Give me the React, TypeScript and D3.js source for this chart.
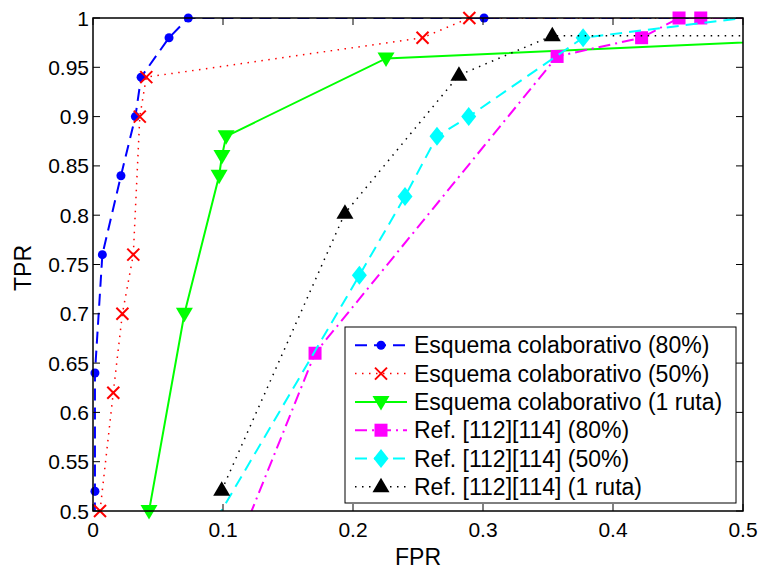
import React from "react";
import * as d3 from "d3";

// ---------- data ----------
const blueX = [0.001, 0.0015, 0.0015, 0.0072, 0.0215, 0.0326, 0.037, 0.0585, 0.0733, 0.3008, 0.6];
const blueY = [0.4, 0.52, 0.64, 0.76, 0.84, 0.9, 0.94, 0.98, 1.0, 1.0, 1.0];

const redX = [0.0054, 0.0156, 0.0226, 0.031, 0.036, 0.041, 0.2535, 0.2895, 0.6];
const redY = [0.5, 0.62, 0.7, 0.76, 0.9, 0.94, 0.98, 1.0, 1.0];

const greenX = [0.0431, 0.0703, 0.097, 0.0992, 0.1024, 0.2254, 0.6];
const greenY = [0.5, 0.7, 0.84, 0.86, 0.88, 0.959, 0.981];

const magentaX = [0.1, 0.1708, 0.357, 0.422, 0.4508, 0.4675, 0.6];
const magentaY = [0.428, 0.66, 0.961, 0.98, 1.0, 1.0, 1.0];

const cyanX = [0.08, 0.2049, 0.24, 0.2646, 0.289, 0.377, 0.5];
const cyanY = [0.458, 0.739, 0.819, 0.88, 0.9, 0.98, 1.0];

const blackX = [0.099, 0.1938, 0.2815, 0.3533, 0.6];
const blackY = [0.521, 0.802, 0.942, 0.982, 0.982];

const xTicks = [0, 0.1, 0.2, 0.3, 0.4, 0.5];
const yTicks = [0.5, 0.55, 0.6, 0.65, 0.7, 0.75, 0.8, 0.85, 0.9, 0.95, 1];

const seriesNames = [
  "Esquema colaborativo (80%)",
  "Esquema colaborativo (50%)",
  "Esquema colaborativo (1 ruta)",
  "Ref. [112][114] (80%)",
  "Ref. [112][114] (50%)",
  "Ref. [112][114] (1 ruta)",
];

type Marker = "dot" | "x" | "tridown" | "square" | "diamond" | "triup";
const seriesStyle: { color: string; dash: string; width: number; marker: Marker }[] = [
  { color: "#0000ff", dash: "12,7", width: 2, marker: "dot" },
  { color: "#ff0000", dash: "1.5,5.5", width: 1.5, marker: "x" },
  { color: "#00ff00", dash: "", width: 2, marker: "tridown" },
  { color: "#ff00ff", dash: "12,5,2,5", width: 2, marker: "square" },
  { color: "#00ffff", dash: "12,7", width: 2, marker: "diamond" },
  { color: "#000000", dash: "1.5,5.5", width: 1.5, marker: "triup" },
];

const seriesX = [blueX, redX, greenX, magentaX, cyanX, blackX];
const seriesY = [blueY, redY, greenY, magentaY, cyanY, blackY];

// ---------- layout ----------
const W = 760;
const H = 569;
const L = 93, R = 743, T = 18, B = 511;
const FONT = "'Liberation Sans', Arial, Helvetica, sans-serif";

function MarkerShape({ type, x, y, color }: { type: Marker; x: number; y: number; color: string }) {
  switch (type) {
    case "dot":
      return <circle cx={x} cy={y} r={4.5} fill={color} />;
    case "x":
      return (
        <g stroke={color} strokeWidth={2}>
          <line x1={x - 6} y1={y - 6} x2={x + 6} y2={y + 6} />
          <line x1={x - 6} y1={y + 6} x2={x + 6} y2={y - 6} />
        </g>
      );
    case "tridown":
      return <path d={`M${x - 8.5},${y - 6}L${x + 8.5},${y - 6}L${x},${y + 8.5}Z`} fill={color} />;
    case "triup":
      return <path d={`M${x - 8.5},${y + 5.5}L${x + 8.5},${y + 5.5}L${x},${y - 9}Z`} fill={color} />;
    case "square":
      return <rect x={x - 6.5} y={y - 6.5} width={13} height={13} fill={color} />;
    case "diamond":
      return <path d={`M${x},${y - 9.5}L${x + 7.5},${y}L${x},${y + 9.5}L${x - 7.5},${y}Z`} fill={color} />;
  }
  return null;
}

export default function App() {
  const x = d3.scaleLinear().domain([0, 0.5]).range([L, R]);
  const y = d3.scaleLinear().domain([0.5, 1]).range([B, T]);
  const line = d3
    .line<[number, number]>()
    .x((d) => x(d[0]))
    .y((d) => y(d[1]));

  const legX = 345, legY = 327, legW = 391, legH = 176;
  const rowY0 = 345.3, rowStep = 28.3;

  return (
    <svg
      width={W}
      height={H}
      style={{ position: "absolute", left: 0, top: 0, background: "#fff" }}
      fontFamily={FONT}
    >
      <rect x={0} y={0} width={W} height={H} fill="#fff" />
      <defs>
        <clipPath id="plotClip">
          <rect x={L} y={T} width={R - L} height={B - T} />
        </clipPath>
      </defs>

      {/* series */}
      {seriesStyle.map((s, i) => {
        const pts: [number, number][] = seriesX[i].map((v, j) => [v, seriesY[i][j]]);
        return (
          <g key={i}>
            <path
              d={line(pts) || ""}
              fill="none"
              stroke={s.color}
              strokeWidth={s.width}
              strokeDasharray={s.dash || undefined}
              clipPath="url(#plotClip)"
            />
            {pts
              .filter((p) => p[0] >= 0 && p[0] < 0.5 && p[1] >= 0.5 && p[1] <= 1)
              .map((p, j) => (
                <MarkerShape key={j} type={s.marker} x={x(p[0])} y={y(p[1])} color={s.color} />
              ))}
          </g>
        );
      })}

      {/* axes box */}
      <rect x={L} y={T} width={R - L} height={B - T} fill="none" stroke="#000" strokeWidth={1.5} />
      {xTicks.map((t, i) => (
        <g key={"xt" + i}>
          <line x1={x(t)} x2={x(t)} y1={B} y2={B - 7} stroke="#000" strokeWidth={1} />
          <line x1={x(t)} x2={x(t)} y1={T} y2={T + 7} stroke="#000" strokeWidth={1} />
          <text x={x(t)} y={537} textAnchor="middle" fontSize={21} fill="#000">
            {String(t)}
          </text>
        </g>
      ))}
      {yTicks.map((t, i) => (
        <g key={"yt" + i}>
          <line x1={L} x2={L + 7} y1={y(t)} y2={y(t)} stroke="#000" strokeWidth={1} />
          <line x1={R} x2={R - 7} y1={y(t)} y2={y(t)} stroke="#000" strokeWidth={1} />
          <text x={89} y={y(t) + 7.5} textAnchor="end" fontSize={21} fill="#000">
            {String(t)}
          </text>
        </g>
      ))}

      {/* axis labels */}
      <text x={418} y={565} textAnchor="middle" fontSize={23} fill="#000">
        FPR
      </text>
      <text
        transform={`translate(31,268) rotate(-90)`}
        textAnchor="middle"
        fontSize={23}
        fill="#000"
      >
        TPR
      </text>

      {/* legend */}
      <rect x={legX} y={legY} width={legW} height={legH} fill="#fff" stroke="#000" strokeWidth={1} />
      {seriesStyle.map((s, i) => {
        const cy = rowY0 + i * rowStep;
        return (
          <g key={"lg" + i}>
            <line
              x1={355}
              x2={407}
              y1={cy}
              y2={cy}
              stroke={s.color}
              strokeWidth={s.width}
              strokeDasharray={s.dash || undefined}
            />
            <MarkerShape type={s.marker} x={381} y={cy} color={s.color} />
            <text x={414} y={cy + 8} fontSize={23} fill="#000">
              {seriesNames[i]}
            </text>
          </g>
        );
      })}
    </svg>
  );
}
